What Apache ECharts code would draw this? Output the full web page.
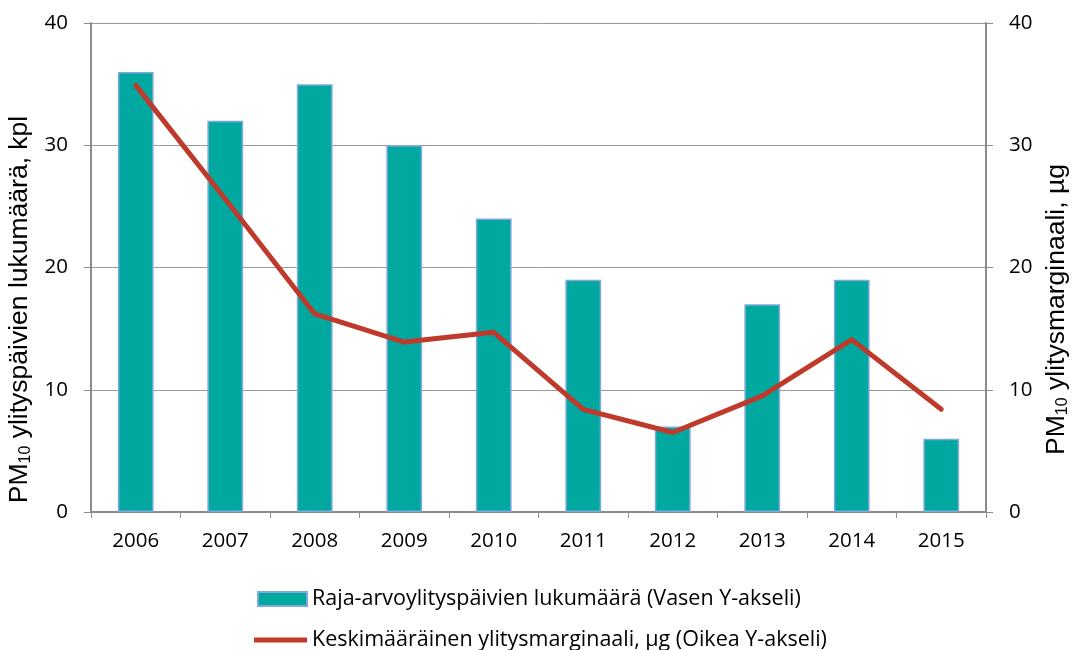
<!DOCTYPE html>
<html>
<head>
<meta charset="utf-8">
<script src="https://cdn.jsdelivr.net/npm/echarts@6/dist/echarts.min.js"></script>
<style>
  html, body { margin: 0; padding: 0; background: #fff; }
  #chart { width: 1073px; height: 650px; }
</style>
</head>
<body>
<div id="chart"></div>
<script>
// years on the x axis
const years = ['2006', '2007', '2008', '2009', '2010', '2011', '2012', '2013', '2014', '2015'];
// number of exceedance days (left axis)
const exceedDays = [36, 32, 35, 30, 24, 19, 7, 17, 19, 6];
// average exceedance margin, µg (right axis)
const avgMargin = [34.9, 25.6, 16.2, 13.9, 14.7, 8.4, 6.5, 9.5, 14.1, 8.4];

const barName = 'Raja-arvoylityspäivien lukumäärä (Vasen Y-akseli)';
const lineName = 'Keskimääräinen ylitysmarginaali, µg (Oikea Y-akseli)';

const font = '"Open Sans", sans-serif';
const titleFont = '"Liberation Sans", Arial, sans-serif';
const axisGrey = '#8c8c8c';

const chart = echarts.init(document.getElementById('chart'));

// axis titles with a subscript "10"
const nameRich = {
  base: { fontSize: 26.5, fontFamily: titleFont, color: '#000' },
  sub: { fontSize: 16, fontFamily: titleFont, color: '#000', verticalAlign: 'bottom', padding: [11, 0, 0, 0] }
};

const option = {
  animation: false,
  textStyle: { fontFamily: font },
  grid: { left: 91, right: 87, top: 23, bottom: 138, outerBoundsMode: 'none' },
  legend: [
    {
      left: 257,
      top: 588,
      padding: 0,
      itemWidth: 49,
      itemHeight: 14,
      textStyle: { fontSize: 21.5, color: '#000', fontFamily: font },
      data: [{ name: barName, icon: 'rect' }]
    },
    {
      left: 254,
      top: 629,
      padding: 0,
      itemWidth: 53,
      itemHeight: 5,
      textStyle: { fontSize: 21.5, color: '#000', fontFamily: font },
      data: [{ name: lineName, icon: 'rect' }]
    }
  ],
  xAxis: {
    type: 'category',
    data: years,
    axisLine: { lineStyle: { color: axisGrey, width: 2 } },
    axisTick: { show: true, length: 6, lineStyle: { color: axisGrey } },
    axisLabel: { fontSize: 20.5, color: '#000', margin: 19, fontFamily: font }
  },
  yAxis: [
    {
      type: 'value',
      min: 0, max: 40, interval: 10,
      position: 'left',
      name: '{base|PM}{sub|10}{base| ylityspäivien lukumäärä, kpl}',
      nameLocation: 'middle',
      nameRotate: 90,
      nameGap: 52,
      nameTextStyle: { rich: nameRich, padding: [0, 0, 0, -84] },
      axisLine: { show: true, lineStyle: { color: axisGrey, width: 2 } },
      axisTick: { show: true, length: 7, lineStyle: { color: axisGrey } },
      axisLabel: { fontSize: 20.5, color: '#000', margin: 23, fontFamily: font },
      splitLine: { lineStyle: { color: '#999', width: 1 } }
    },
    {
      type: 'value',
      min: 0, max: 40, interval: 10,
      position: 'right',
      name: '{base|PM}{sub|10}{base| ylitysmarginaali, µg}',
      nameLocation: 'middle',
      nameRotate: 90,
      nameGap: 57,
      nameTextStyle: { rich: nameRich, padding: [0, 0, 0, -84] },
      axisLine: { show: true, lineStyle: { color: axisGrey, width: 2 } },
      axisTick: { show: true, length: 7, lineStyle: { color: axisGrey } },
      axisLabel: { fontSize: 20.5, color: '#000', margin: 23, fontFamily: font },
      splitLine: { show: false }
    }
  ],
  series: [
    {
      name: barName,
      type: 'bar',
      yAxisIndex: 0,
      data: exceedDays,
      barWidth: '40%',
      itemStyle: { color: '#00a8a0', borderColor: '#7fa9dc', borderWidth: 1.5 }
    },
    {
      name: lineName,
      type: 'line',
      yAxisIndex: 1,
      data: avgMargin,
      symbol: 'none',
      lineStyle: { color: '#bf3a2b', width: 5, cap: 'round', join: 'round' },
      itemStyle: { color: '#bf3a2b' }
    }
  ]
};

chart.setOption(option);
</script>
</body>
</html>
